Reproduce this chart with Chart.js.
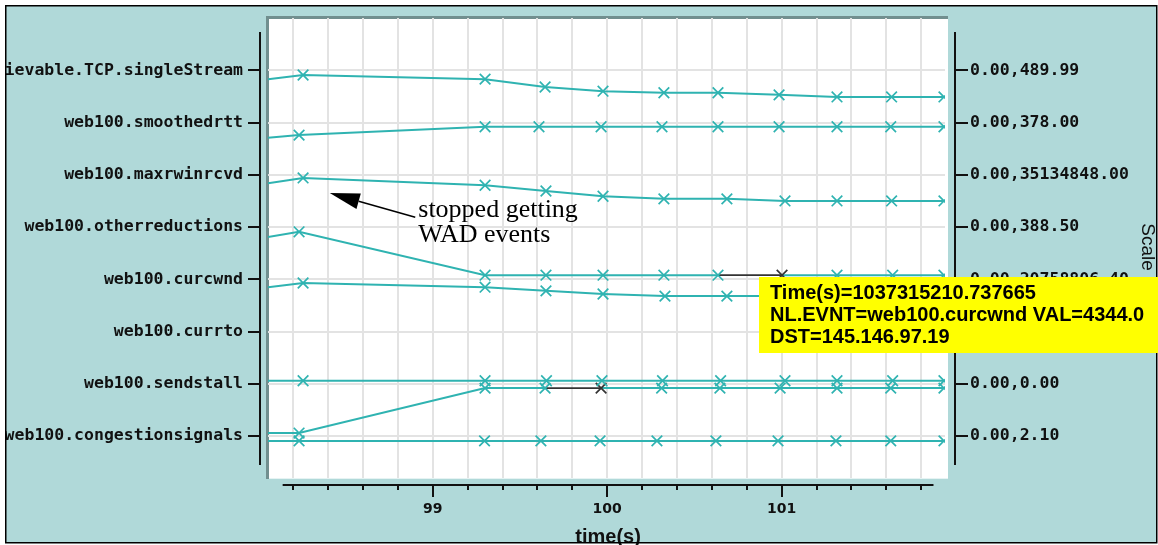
<!DOCTYPE html>
<html>
<head>
<meta charset="utf-8">
<script src="https://cdn.jsdelivr.net/npm/chart.js@4.4.1/dist/chart.umd.min.js"></script>
<style>
  html, body { margin: 0; padding: 0; background: #fff; }
  canvas { display: block; }
</style>
</head>
<body>
<canvas id="lifeline-chart" width="1158" height="545"></canvas>
<script>
// event types, one row each, top to bottom
const rowLabels = [
  'ievable.TCP.singleStream',
  'web100.smoothedrtt',
  'web100.maxrwinrcvd',
  'web100.otherreductions',
  'web100.curcwnd',
  'web100.currto',
  'web100.sendstall',
  'web100.congestionsignals'
];
// min,max scale of each row (the curcwnd one is mostly under the popup)
const scaleLabels = [
  '0.00,489.99',
  '0.00,378.00',
  '0.00,35134848.00',
  '0.00,388.50',
  '0.00,20758806.40',
  '',
  '0.00,0.00',
  '0.00,2.10'
];

const timeMin = 98.056;
const timeMax = 101.936;

// lifelines: event times (s) and level inside the row band (0 = on the row tick, 1 = next row)
const streamRow = 0;
const streamTimes = [98.056, 98.257, 99.30, 99.644, 99.976, 100.325, 100.635, 100.985, 101.317, 101.63, 101.93];
const streamLevels = [0.17, 0.09, 0.17, 0.32, 0.40, 0.43, 0.43, 0.47, 0.51, 0.51, 0.51];

const rttRow = 1;
const rttTimes = [98.056, 98.234, 99.30, 99.609, 99.965, 100.314, 100.635, 100.985, 101.317, 101.625, 101.93];
const rttLevels = [0.29, 0.24, 0.08, 0.08, 0.08, 0.08, 0.08, 0.08, 0.08, 0.08, 0.08];

const rwinRow = 2;
const rwinTimes = [98.056, 98.257, 99.30, 99.649, 99.976, 100.325, 100.686, 101.019, 101.317, 101.63, 101.93];
const rwinLevels = [0.16, 0.06, 0.20, 0.31, 0.41, 0.46, 0.46, 0.50, 0.50, 0.50, 0.50];

const reductionRow = 3;
const reductionTimes = [98.056, 98.234, 99.30, 99.649, 99.976, 100.325, 100.635, 101.002, 101.317, 101.636, 101.93];
const reductionLevels = [0.19, 0.09, 0.92, 0.92, 0.92, 0.92, 0.92, 0.92, 0.92, 0.92, 0.92];
const reductionSelected = 6; // highlighted segment, its end point carries the popup

const cwndRow = 4;
const cwndTimes = [98.056, 98.257, 99.30, 99.649, 99.976, 100.331, 100.686, 101.019, 101.317, 101.63, 101.93];
const cwndLevels = [0.15, 0.07, 0.15, 0.22, 0.28, 0.32, 0.32, 0.32, 0.32, 0.32, 0.32];

const stallRow = 6;
const stallTimes = [98.056, 98.257, 99.30, 99.652, 99.97, 100.317, 100.65, 101.019, 101.317, 101.636, 101.93];
const stallLevels = [-0.06, -0.06, -0.06, -0.06, -0.06, -0.06, -0.06, -0.06, -0.06, -0.06, -0.06];

const stall2Row = 6;
const stall2Times = [98.056, 98.234, 99.30, 99.644, 99.965, 100.312, 100.646, 100.991, 101.317, 101.625, 101.93];
const stall2Levels = [0.94, 0.94, 0.08, 0.08, 0.08, 0.08, 0.08, 0.08, 0.08, 0.08, 0.08];
const stall2Selected = 3;

const congestionRow = 7;
const congestionTimes = [98.056, 98.234, 99.297, 99.62, 99.959, 100.285, 100.623, 100.979, 101.311, 101.625, 101.93];
const congestionLevels = [0.09, 0.09, 0.09, 0.09, 0.09, 0.09, 0.09, 0.09, 0.09, 0.09, 0.09];

// note "stopped getting WAD events" (time, row units)
const noteTip = [98.41, 2.35];
const noteTail = [98.90, 2.81];
const noteLines = ['stopped getting', 'WAD events'];

const popupLines = [
  'Time(s)=1037315210.737665',
  'NL.EVNT=web100.curcwnd VAL=4344.0',
  'DST=145.146.97.19'
];

const teal = '#2fb3b1';
const dark = '#333333';
const bgTeal = '#b0d9d9';
const gridColor = '#e3e3e3';
const monoFont = { family: 'DejaVu Sans Mono', size: 16.5, weight: 'bold' };

const lifeline = (label, row, times, levels, selected = -1) => ({
  label: label,
  data: times.map((t, i) => ({ x: t, y: row + levels[i] })),
  borderColor: teal,
  borderWidth: 2,
  tension: 0,
  fill: false,
  clip: 0,
  pointStyle: 'crossRot',
  pointRadius: times.map((t, i) => (i === 0 ? 0 : 7.5)),
  pointBorderWidth: 1.7,
  pointBorderColor: times.map((t, i) => (i === selected + 1 ? dark : teal)),
  segment: {
    borderColor: c => (c.p0DataIndex === selected ? dark : teal),
    borderWidth: c => (c.p0DataIndex === selected ? 1.8 : 2)
  }
});

const isWhole = v => Math.abs(v - Math.round(v)) < 1e-6;
const keepInside = scale => {
  scale.ticks = scale.ticks.filter(t => t.value >= scale.min - 1e-9 && t.value <= scale.max + 1e-9);
};
// fixed axis boxes, no extra room for overhanging labels
const fixBox = (w, h) => s => {
  if (w !== null) s.width = w;
  if (h !== null) s.height = h;
  s.paddingTop = 0;
  s.paddingBottom = 0;
  s.paddingLeft = 0;
  s.paddingRight = 0;
};

const lifelinePlugin = {
  id: 'lifelineFrame',
  beforeDraw(chart) {
    const { ctx, chartArea: a, width, height } = chart;
    ctx.save();
    ctx.fillStyle = '#fff';
    ctx.fillRect(0, 0, width, height);
    ctx.fillStyle = bgTeal;
    ctx.fillRect(6, 6, width - 7, height - 8);
    // white panel with its inset edge
    ctx.fillStyle = '#fff';
    ctx.fillRect(a.left, a.top, a.right + 3 - a.left, a.bottom - a.top);
    ctx.fillStyle = '#e6f3f3';
    ctx.fillRect(a.left, a.bottom, a.right + 3 - a.left, 1);
    ctx.fillStyle = '#718f8f';
    ctx.fillRect(a.left - 2, a.top - 2, a.right + 5 - a.left, 3);
    ctx.fillRect(a.left - 2, a.top - 2, 3, a.bottom - a.top + 3);
    ctx.restore();
  },
  afterDatasetsDraw(chart) {
    const { ctx, scales: { x, y } } = chart;
    const tx = x.getPixelForValue(noteTip[0]), ty = y.getPixelForValue(noteTip[1]);
    const sx = x.getPixelForValue(noteTail[0]), sy = y.getPixelForValue(noteTail[1]);
    const len = Math.hypot(tx - sx, ty - sy);
    const ux = (tx - sx) / len, uy = (ty - sy) / len;
    const bx = tx - ux * 30, by = ty - uy * 30;
    ctx.save();
    ctx.strokeStyle = '#000';
    ctx.lineWidth = 1.5;
    ctx.beginPath();
    ctx.moveTo(sx, sy);
    ctx.lineTo(bx, by);
    ctx.stroke();
    ctx.fillStyle = '#000';
    ctx.beginPath();
    ctx.moveTo(tx, ty);
    ctx.lineTo(bx - uy * 8, by + ux * 8);
    ctx.lineTo(bx + uy * 8, by - ux * 8);
    ctx.closePath();
    ctx.fill();
    ctx.font = '26px "Liberation Serif"';
    ctx.textBaseline = 'alphabetic';
    noteLines.forEach((s, i) => ctx.fillText(s, sx + 3, sy + i * 25));
    ctx.restore();
  },
  afterDraw(chart) {
    const { ctx, chartArea: a, width, height, scales: { x, y } } = chart;
    ctx.save();
    ctx.strokeStyle = '#111';
    ctx.fillStyle = '#111';
    ctx.lineWidth = 2;

    // time axis below the panel
    const axisY = a.bottom + 7;
    ctx.beginPath();
    ctx.moveTo(x.getPixelForValue(98.14), axisY);
    ctx.lineTo(x.getPixelForValue(101.87), axisY);
    x.ticks.forEach(t => {
      const px = Math.round(x.getPixelForValue(t.value));
      ctx.moveTo(px, axisY);
      ctx.lineTo(px, axisY + (isWhole(t.value) ? 12 : 5));
    });
    ctx.stroke();

    // row axes on both sides
    const leftX = a.left - 8, rightX = a.right + 10;
    ctx.beginPath();
    ctx.moveTo(leftX, a.top + 14);
    ctx.lineTo(leftX, a.bottom - 13);
    ctx.moveTo(rightX, a.top + 14);
    ctx.lineTo(rightX, a.bottom - 13);
    y.ticks.forEach(t => {
      if (t.value < 0) return;
      const py = Math.round(y.getPixelForValue(t.value));
      ctx.moveTo(leftX - 12, py);
      ctx.lineTo(leftX, py);
      ctx.moveTo(rightX, py);
      ctx.lineTo(rightX + 13, py);
    });
    ctx.stroke();

    ctx.font = 'bold 20px "Liberation Sans"';
    ctx.textAlign = 'center';
    ctx.fillText('time(s)', (x.getPixelForValue(98.14) + x.getPixelForValue(101.87)) / 2, 543);

    ctx.save();
    ctx.translate(1142, 247);
    ctx.rotate(Math.PI / 2);
    ctx.font = '19px "Liberation Sans"';
    ctx.fillText('Scale', 0, 0);
    ctx.restore();

    // outer frame, clipping the long labels
    ctx.fillStyle = '#fff';
    ctx.fillRect(0, 0, 5, height);
    ctx.fillRect(width - 1, 0, 1, height);
    ctx.strokeStyle = '#000';
    ctx.lineWidth = 1.5;
    ctx.strokeRect(5.75, 5.75, width - 7, height - 8);

    // popup of the selected curcwnd event
    const meta = chart.getDatasetMeta(3);
    const pt = meta.data[reductionSelected + 1];
    const left = Math.round(pt.x) - 23, top = Math.round(pt.y) + 2;
    ctx.fillStyle = '#ffff00';
    ctx.fillRect(left, top, width - left, 76);
    ctx.fillStyle = '#000';
    ctx.textAlign = 'left';
    ctx.font = 'bold 20px "Liberation Sans"';
    popupLines.forEach((s, i) => ctx.fillText(s, left + 11, top + 22 + i * 22));
    ctx.restore();
  }
};

const ctx = document.getElementById('lifeline-chart').getContext('2d');
const lifelineChart = new Chart(ctx, {
  type: 'line',
  data: {
    datasets: [
      lifeline('singleStream', streamRow, streamTimes, streamLevels),
      lifeline('smoothedrtt', rttRow, rttTimes, rttLevels),
      lifeline('maxrwinrcvd', rwinRow, rwinTimes, rwinLevels),
      lifeline('otherreductions', reductionRow, reductionTimes, reductionLevels, reductionSelected),
      lifeline('curcwnd', cwndRow, cwndTimes, cwndLevels),
      lifeline('sendstall', stallRow, stallTimes, stallLevels),
      lifeline('sendstall 2', stall2Row, stall2Times, stall2Levels, stall2Selected),
      lifeline('congestionsignals', congestionRow, congestionTimes, congestionLevels)
    ]
  },
  options: {
    responsive: false,
    animation: false,
    events: [],
    layout: { padding: { top: 18, left: 0, right: 0, bottom: 0 } },
    plugins: {
      legend: { display: false },
      tooltip: { enabled: false }
    },
    scales: {
      x: {
        type: 'linear',
        min: timeMin,
        max: timeMax,
        afterFit: fixBox(null, 67),
        afterBuildTicks: keepInside,
        border: { display: false },
        grid: { color: gridColor, lineWidth: 2, drawTicks: false },
        ticks: {
          stepSize: 0.2,
          includeBounds: false,
          autoSkip: false,
          maxRotation: 0,
          padding: 23,
          color: '#111',
          font: { family: 'DejaVu Sans', size: 14, weight: 'bold' },
          callback: v => (isWhole(v) ? String(Math.round(v)) : '')
        }
      },
      y: {
        type: 'linear',
        position: 'left',
        reverse: true,
        min: -1,
        max: 7.8,
        afterFit: fixBox(268, null),
        afterBuildTicks: keepInside,
        border: { display: false },
        grid: {
          color: c => (c.tick && c.tick.value >= 0 ? gridColor : 'rgba(0,0,0,0)'),
          lineWidth: 2,
          drawTicks: false
        },
        ticks: {
          stepSize: 1,
          includeBounds: false,
          autoSkip: false,
          padding: 25,
          color: '#111',
          font: monoFont,
          callback: v => (Number.isInteger(v) && rowLabels[v] !== undefined ? rowLabels[v] : '')
        }
      },
      scaleAxis: {
        type: 'linear',
        position: 'right',
        reverse: true,
        min: -1,
        max: 7.8,
        afterFit: fixBox(213, null),
        afterBuildTicks: keepInside,
        border: { display: false },
        grid: { display: false, drawTicks: false },
        ticks: {
          stepSize: 1,
          includeBounds: false,
          autoSkip: false,
          padding: 25,
          color: '#111',
          font: monoFont,
          callback: v => (Number.isInteger(v) && scaleLabels[v] !== undefined ? scaleLabels[v] : '')
        }
      }
    }
  },
  plugins: [lifelinePlugin]
});
</script>
</body>
</html>
